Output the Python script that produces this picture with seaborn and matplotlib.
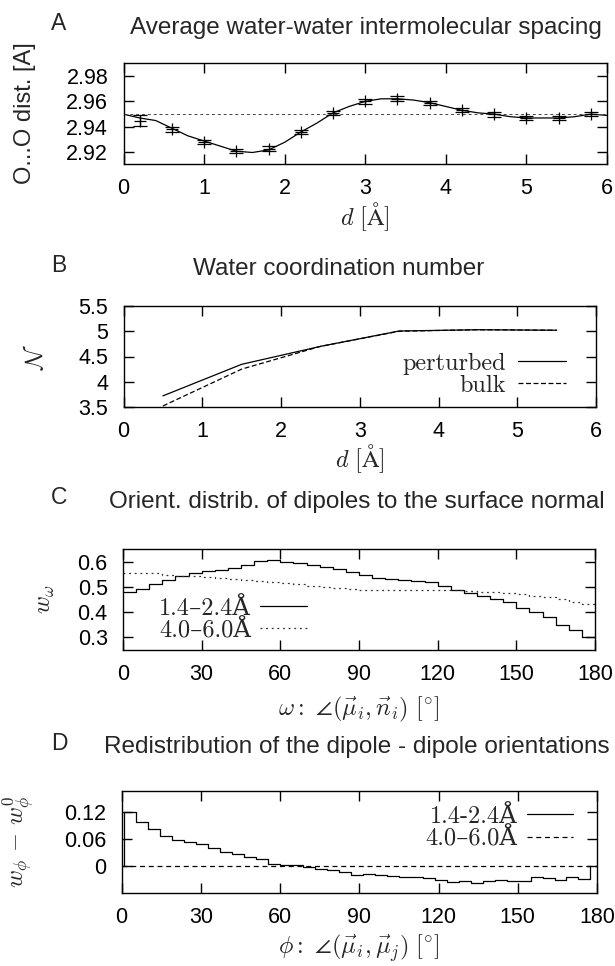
import numpy as np
import pandas as pd
import matplotlib
matplotlib.use("Agg")
import matplotlib.pyplot as plt
import seaborn as sns

# ---------------- data ----------------
# Panel A: average O...O spacing vs distance d
a_d = [0.2, 0.6, 1.0, 1.4, 1.8, 2.2, 2.6, 3.0, 3.4, 3.8, 4.2, 4.6, 5.0, 5.4, 5.8]
a_spacing = [2.945, 2.938, 2.928, 2.921, 2.923, 2.936, 2.951, 2.960, 2.962,
             2.959, 2.953, 2.950, 2.947, 2.947, 2.950]
a_err = [0.004, 0.002, 0.0015, 0.0015, 0.002, 0.0015, 0.0015, 0.002, 0.002,
         0.0015, 0.0015, 0.002, 0.0015, 0.0015, 0.0015]
a_fit_d = [0.0, 0.2, 0.4, 0.6, 0.8, 1.0, 1.2, 1.4, 1.6, 1.8, 2.0, 2.2, 2.4, 2.6,
           2.8, 3.0, 3.2, 3.4, 3.6, 3.8, 4.0, 4.2, 4.4, 4.6, 4.8, 5.0, 5.2, 5.4,
           5.6, 5.8, 6.0]
a_fit = [2.950, 2.947, 2.945, 2.939, 2.933, 2.929, 2.925, 2.921, 2.920, 2.922,
         2.928, 2.936, 2.943, 2.951, 2.956, 2.960, 2.962, 2.962, 2.961, 2.959,
         2.956, 2.953, 2.951, 2.950, 2.948, 2.947, 2.947, 2.947, 2.948, 2.950,
         2.949]
a_bulk = 2.95

# Panel B: coordination number
b_d = [0.5, 1.5, 2.5, 3.5, 4.5, 5.5]
b_perturbed = [3.72, 4.345, 4.70, 5.005, 5.03, 5.02]
b_bulk = [3.52, 4.25, 4.70, 5.00, 5.03, 5.02]

# Panel C: orientation distribution (5 deg bins)
c_edges = list(range(0, 185, 5))
c_near = [0.478, 0.493, 0.510, 0.527, 0.545, 0.553, 0.562, 0.568, 0.575, 0.588,
          0.603, 0.605, 0.600, 0.595, 0.586, 0.578, 0.570, 0.559, 0.547, 0.537,
          0.530, 0.526, 0.522, 0.518, 0.503, 0.487, 0.474, 0.462, 0.452, 0.440,
          0.418, 0.402, 0.380, 0.350, 0.328, 0.303]
c_far = [0.556, 0.555, 0.553, 0.548, 0.545, 0.543, 0.540, 0.537, 0.533, 0.529,
         0.525, 0.521, 0.516, 0.510, 0.505, 0.500, 0.496, 0.491, 0.487, 0.486,
         0.486, 0.487, 0.488, 0.489, 0.488, 0.486, 0.483, 0.481, 0.478, 0.475,
         0.470, 0.465, 0.458, 0.450, 0.442, 0.433]

# Panel D: dipole-dipole redistribution
d_edges = list(np.linspace(1.0, 177.5, 40))
d_near = [0.120, 0.098, 0.082, 0.066, 0.057, 0.052, 0.049, 0.040, 0.030, 0.025,
          0.020, 0.014, 0.003, 0.002, 0.001, -0.004, -0.008, -0.011, -0.015,
          -0.021, -0.019, -0.021, -0.023, -0.027, -0.027, -0.029, -0.033, -0.037,
          -0.035, -0.040, -0.035, -0.033, -0.034, -0.035, -0.027, -0.029, -0.033,
          -0.027, -0.031]
d_far_phi = [0, 180]
d_far = [0.0, 0.0]

# ---------------- style ----------------
sns.set_theme(style="ticks")
plt.rcParams["font.family"] = ["Liberation Sans", "DejaVu Sans"]
plt.rcParams["mathtext.fontset"] = "cm"
plt.rcParams["axes.linewidth"] = 1.0

W, H = 615, 966
fig = plt.figure(figsize=(W / 100, H / 100), dpi=100)

TICK = 15.5
LAB = 17.5
TIT = 17.5
leg_font = {"family": ["cmr10", "DejaVu Serif"], "size": 17.5}


def add_ax(l, r, t, b):
    return fig.add_axes([l / W, 1 - b / H, (r - l) / W, (b - t) / H])


def style(ax):
    ax.tick_params(direction="in", top=True, right=True, length=7, width=1,
                   labelsize=TICK, colors="black")
    ax.tick_params(axis="x", pad=10)
    ax.tick_params(axis="y", pad=11)
    for s in ax.spines.values():
        s.set_color("black")
        s.set_linewidth(1.0)


def panel_title(letter, text, y, cx):
    fig.text(59 / W, 1 - (y - 4) / H, letter, fontsize=TIT - 1, ha="center", va="center")
    fig.text(cx / W, 1 - y / H, text, fontsize=TIT, ha="center", va="center")


# ---------------- Panel A ----------------
axA = add_ax(123.5, 607, 63, 164)
style(axA)
dfA_fit = pd.DataFrame({"d": a_fit_d, "v": a_fit})
sns.lineplot(data=dfA_fit, x="d", y="v", ax=axA, color="black", lw=0.9,
             estimator=None, sort=False)
axA.errorbar(a_d, a_spacing, yerr=a_err, fmt="+", color="black", ms=9,
             mew=0.9, elinewidth=0.9, capsize=5, capthick=0.9)
axA.axhline(a_bulk, color="#444444", lw=0.7, ls=(0, (3, 3)))
axA.set_xlim(0, 6)
axA.set_ylim(2.911, 2.990)
axA.set_xticks([0, 1, 2, 3, 4, 5, 6])
axA.set_yticks([2.92, 2.94, 2.96, 2.98])
axA.set_yticklabels(["2.92", "2.94", "2.96", "2.98"])
axA.set_xlabel(r"$d\ [\mathrm{\AA}]$", fontsize=LAB, va="center")
axA.xaxis.set_label_coords(0.5, -0.52)
axA.set_ylabel("O...O dist. [A]", fontsize=17, va="center")
axA.yaxis.set_label_coords((25 - 123.5) / 483.5, 0.5)
panel_title("A", "Average water-water intermolecular spacing", 28, 366)

# ---------------- Panel B ----------------
axB = add_ax(123.5, 596, 306, 407)
style(axB)
dfB = pd.DataFrame({"d": b_d * 2, "N": b_perturbed + b_bulk,
                    "kind": ["perturbed"] * len(b_d) + ["bulk"] * len(b_d)})
sns.lineplot(data=dfB, x="d", y="N", hue="kind", style="kind",
             palette={"perturbed": "black", "bulk": "black"},
             dashes={"perturbed": "", "bulk": (4, 2)}, lw=0.9, ax=axB,
             estimator=None, sort=False)
axB.set_xlim(0, 6)
axB.set_ylim(3.5, 5.5)
axB.set_xticks([0, 1, 2, 3, 4, 5, 6])
axB.set_yticks([3.5, 4, 4.5, 5, 5.5])
axB.set_yticklabels(["3.5", "4", "4.5", "5", "5.5"])
axB.set_xlabel(r"$d\ [\mathrm{\AA}]$", fontsize=LAB, va="center")
axB.xaxis.set_label_coords(0.5, -0.51)
axB.set_ylabel(r"$\mathcal{N}$", fontsize=LAB, va="center")
axB.yaxis.set_label_coords((36 - 123.5) / 472.5, 0.5)
h, l = axB.get_legend_handles_labels()
axB.legend(h, l, loc="center right", bbox_to_anchor=(0.937, 0.32),
           frameon=False, markerfirst=False, prop=leg_font, handlelength=2.0,
           borderaxespad=0, borderpad=0, labelspacing=0.0, handletextpad=0.5)
panel_title("B", "Water coordination number", 269, 339)

# ---------------- Panel C ----------------
axC = add_ax(123, 595, 549, 650)
style(axC)
dfC = pd.DataFrame({
    "w": c_edges * 2,
    "v": c_near + [c_near[-1]] + c_far + [c_far[-1]],
    "range": ["1.4–2.4Å"] * len(c_edges) + ["4.0–6.0Å"] * len(c_edges)})
sns.lineplot(data=dfC, x="w", y="v", hue="range", style="range",
             palette={"1.4–2.4Å": "black", "4.0–6.0Å": "#333333"},
             dashes={"1.4–2.4Å": "", "4.0–6.0Å": (1.5, 3)}, lw=0.9, ax=axC,
             estimator=None, sort=False, drawstyle="steps-post")
axC.set_xlim(0, 180)
axC.set_ylim(0.25, 0.65)
axC.set_xticks([0, 30, 60, 90, 120, 150, 180])
axC.set_yticks([0.3, 0.4, 0.5, 0.6])
axC.set_yticklabels(["0.3", "0.4", "0.5", "0.6"])
axC.set_xlabel(r"$\omega:\ \angle(\vec{\mu}_i,\vec{n}_i)\ [^{\circ}]$",
               fontsize=LAB, va="center")
axC.xaxis.set_label_coords(0.5, -0.59)
axC.set_ylabel(r"$w_{\omega}$", fontsize=LAB, va="center")
axC.yaxis.set_label_coords((46 - 123) / 472, 0.5)
h, l = axC.get_legend_handles_labels()
axC.legend(h, l, loc="center left", bbox_to_anchor=(0.076, 0.30),
           frameon=False, markerfirst=False, prop=leg_font, handlelength=1.9,
           borderaxespad=0, borderpad=0, labelspacing=0.0, handletextpad=0.4)
panel_title("C", "Orient. distrib. of dipoles to the surface normal", 502, 357)

# ---------------- Panel D ----------------
axD = add_ax(121.5, 597, 791, 893)
style(axD)
near_x = [d_edges[0]] + d_edges + [d_edges[-1]]
near_y = [0.0] + d_near + [d_near[-1], 0.0]
dfD = pd.DataFrame({
    "p": near_x + d_far_phi,
    "v": near_y + d_far,
    "range": ["1.4-2.4Å"] * len(near_x) + ["4.0–6.0Å"] * len(d_far_phi)})
sns.lineplot(data=dfD, x="p", y="v", hue="range", style="range",
             palette={"1.4-2.4Å": "black", "4.0–6.0Å": "black"},
             dashes={"1.4-2.4Å": "", "4.0–6.0Å": (4, 3)}, lw=0.9, ax=axD,
             estimator=None, sort=False, drawstyle="steps-post")
axD.set_xlim(0, 180)
axD.set_ylim(-0.062, 0.168)
axD.set_xticks([0, 30, 60, 90, 120, 150, 180])
axD.set_yticks([0, 0.06, 0.12])
axD.set_yticklabels(["0", "0.06", "0.12"])
axD.set_xlabel(r"$\phi:\ \angle(\vec{\mu}_i,\vec{\mu}_j)\ [^{\circ}]$",
               fontsize=LAB, va="center")
axD.xaxis.set_label_coords(0.5, -0.54)
axD.set_ylabel(r"$w_{\phi}\,-\,w^{0}_{\phi}$", fontsize=LAB, va="center")
axD.yaxis.set_label_coords((19 - 121.5) / 475.5, 0.5)
h, l = axD.get_legend_handles_labels()
axD.legend(h, l, loc="center right", bbox_to_anchor=(0.95, 0.64),
           frameon=False, markerfirst=False, prop=leg_font, handlelength=1.9,
           borderaxespad=0, borderpad=0, labelspacing=0.0, handletextpad=0.4)
panel_title("D", "Redistribution of the dipole - dipole orientations", 747, 357)

fig.savefig("out.png", dpi=100)
